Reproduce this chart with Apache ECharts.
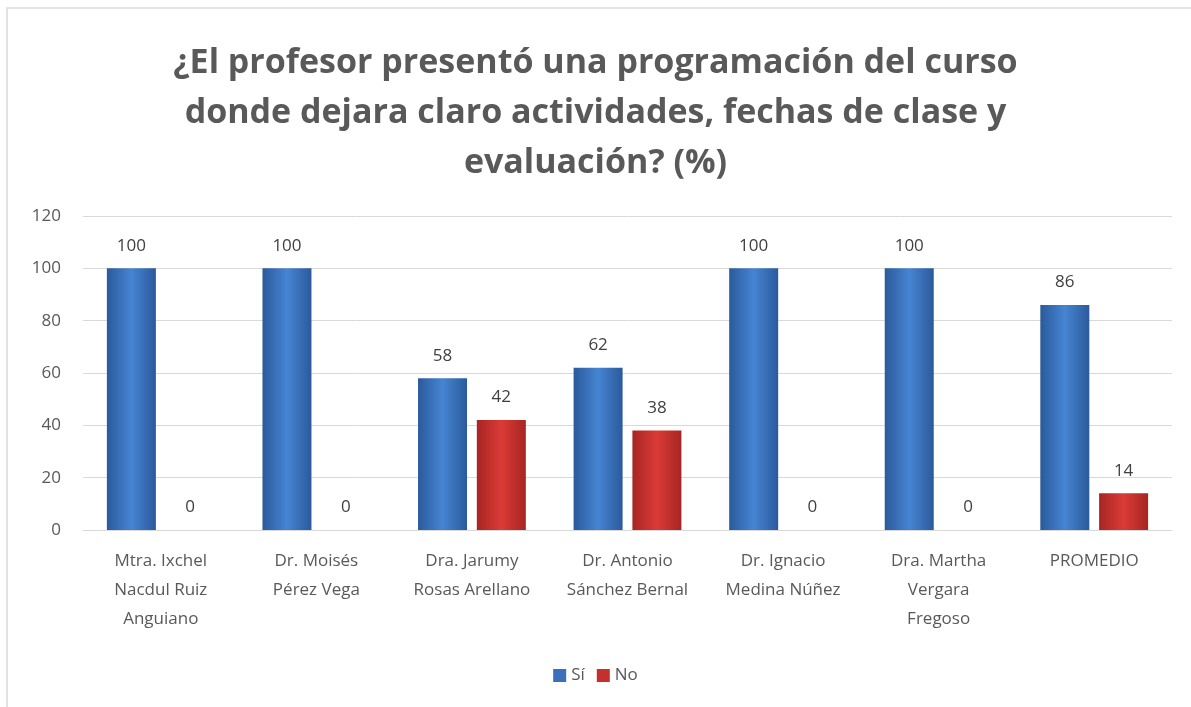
<!DOCTYPE html>
<html>
<head>
<meta charset="utf-8">
<title>Programación del curso</title>
<script src="https://cdn.jsdelivr.net/npm/echarts@6/dist/echarts.min.js"></script>
<style>
  html, body { margin: 0; padding: 0; background: #ffffff; }
  #chart { width: 1191px; height: 707px; }
  /* marco gris del gráfico original */
  #marco {
    position: absolute; left: 6px; top: 7px; width: 1200px; height: 720px;
    border-left: 2px solid #e3e3e3; border-top: 2px solid #e3e3e3;
    pointer-events: none;
  }
</style>
</head>
<body>
<div id="chart"></div>
<div id="marco"></div>
<script>
// datos
var categorias = [
  "Mtra. Ixchel\nNacdul Ruiz\nAnguiano",
  "Dr. Moisés\nPérez Vega",
  "Dra. Jarumy\nRosas Arellano",
  "Dr. Antonio\nSánchez Bernal",
  "Dr. Ignacio\nMedina Núñez",
  "Dra. Martha\nVergara\nFregoso",
  "PROMEDIO"
];
var si = [100, 100, 58, 62, 100, 100, 86];
var no = [0, 0, 42, 38, 0, 0, 14];

var fuente = "'Open Sans', 'Noto Sans', sans-serif";

// degradado horizontal para imitar el bisel de Excel
function degradado(borde, centro) {
  return new echarts.graphic.LinearGradient(0, 0, 1, 0, [
    { offset: 0, color: borde },
    { offset: 0.5, color: centro },
    { offset: 1, color: borde }
  ]);
}

var etiqueta = {
  show: true,
  position: "top",
  distance: 14,
  fontFamily: fuente,
  fontSize: 17,
  color: "#404040"
};

var myChart = echarts.init(document.getElementById("chart"));
var option = {
  backgroundColor: "#ffffff",
  title: {
    text: "¿El profesor presentó una programación del curso\ndonde dejara claro actividades, fechas de clase y\nevaluación? (%)",
    left: "center",
    top: 33,
    textStyle: {
      fontFamily: fuente,
      fontSize: 34,
      fontWeight: "bold",
      color: "#595959",
      lineHeight: 50
    }
  },
  legend: {
    bottom: 18,
    left: "center",
    itemWidth: 13,
    itemHeight: 13,
    itemGap: 12,
    icon: "rect",
    textStyle: { fontFamily: fuente, fontSize: 17, color: "#595959" },
    data: [
      { name: "Sí", itemStyle: { color: "#3a70bb" } },
      { name: "No", itemStyle: { color: "#c3302d" } }
    ]
  },
  grid: { left: 83, right: 19, top: 216, bottom: 177 },
  xAxis: {
    type: "category",
    data: categorias,
    axisTick: { show: false },
    axisLine: { lineStyle: { color: "#d9d9d9" } },
    axisLabel: {
      fontFamily: fuente,
      fontSize: 17,
      color: "#595959",
      lineHeight: 29,
      margin: 17,
      interval: 0
    }
  },
  yAxis: {
    type: "value",
    min: 0,
    max: 120,
    interval: 20,
    axisLine: { show: false },
    axisTick: { show: false },
    splitLine: { lineStyle: { color: "#d9d9d9" } },
    axisLabel: { fontFamily: fuente, fontSize: 17, color: "#595959", margin: 22 }
  },
  series: [
    {
      name: "Sí",
      type: "bar",
      data: si,
      barWidth: 49,
      barGap: "20%",
      itemStyle: { color: degradado("#2b5a9c", "#4684d2") },
      label: etiqueta
    },
    {
      name: "No",
      type: "bar",
      data: no,
      barWidth: 49,
      itemStyle: { color: degradado("#a62523", "#db3b36") },
      label: etiqueta
    }
  ]
};
myChart.setOption(option);
</script>
</body>
</html>
